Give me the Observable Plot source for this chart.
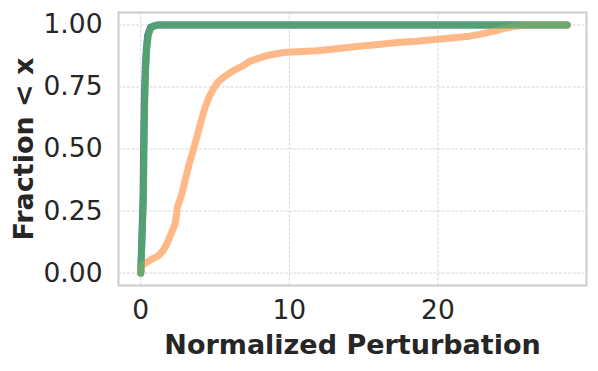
<!DOCTYPE html>
<html>
<head>
<meta charset="utf-8">
<script src="https://cdn.jsdelivr.net/npm/d3@7"></script>
<script src="https://cdn.jsdelivr.net/npm/@observablehq/plot@0.6"></script>
<style>
  html, body { margin: 0; padding: 0; background: #fff; }
  svg { display: block; }
</style>
</head>
<body>
<div id="chart"></div>
<script>
// Series (x = normalized perturbation, y = fraction < x)
const blueX   = [0, 0.05, 0.1, 0.15, 0.19, 0.24, 0.3, 0.37, 0.47, 0.65, 1.1, 28.7];
const blueY   = [0, 0.1, 0.2, 0.3, 0.5, 0.7, 0.82, 0.9, 0.96, 0.99, 1.0, 1.0];
const greenX  = [0, 0.06, 0.12, 0.18, 0.22, 0.27, 0.33, 0.4, 0.51, 0.7, 0.95, 1.2, 28.7];
const greenY  = [0, 0.1, 0.2, 0.3, 0.5, 0.7, 0.82, 0.9, 0.96, 0.99, 0.998, 1.0, 1.0];
const orangeX = [0, 0.07, 0.63, 1.18, 1.5, 1.75, 2.05, 2.31, 2.4, 2.46, 2.76, 3.05, 3.32, 3.77, 4.05, 4.33, 4.6, 4.89, 5.2, 5.56, 6.2, 6.9, 7.3, 7.8, 8.6, 9.6, 10.5, 11.84, 13.0, 14.08, 15.8, 17.45, 18.57, 20.2, 21.94, 22.8, 23.73, 24.4, 25.07, 25.97, 28.7];
const orangeY = [0, 0.03, 0.052, 0.07, 0.09, 0.117, 0.16, 0.198, 0.23, 0.265, 0.318, 0.39, 0.453, 0.547, 0.61, 0.668, 0.71, 0.742, 0.77, 0.789, 0.815, 0.836, 0.852, 0.863, 0.878, 0.889, 0.892, 0.896, 0.903, 0.91, 0.92, 0.93, 0.934, 0.943, 0.953, 0.962, 0.974, 0.985, 0.993, 1.0, 1.0];
const xTicks = [0, 10, 20];
const yTicks = [0, 0.25, 0.5, 0.75, 1.0];
const xLabel = "Normalized Perturbation";
const yLabel = "Fraction < x";

const toRows = (xs, ys) => xs.map((x, i) => ({x, y: ys[i]}));
const blue = toRows(blueX, blueY);
const green = toRows(greenX, greenY);
const orange = toRows(orangeX, orangeY);

const font = "DejaVu Sans";
const lineOpts = {x: "x", y: "y", strokeWidth: 7, strokeLinecap: "round", strokeLinejoin: "round", curve: "linear"};
const chart = Plot.plot({
  width: 598,
  height: 371,
  marginLeft: 118,
  marginRight: 12,
  marginTop: 12,
  marginBottom: 86,
  style: {fontFamily: font, color: "#262626", background: "#fff", overflow: "visible"},
  x: {domain: [-1.5, 30.0]},
  y: {domain: [-0.05, 1.05]},
  marks: [
    Plot.ruleX(xTicks, {stroke: "#d4d4d4", strokeWidth: 0.9, strokeDasharray: "3,1.5"}),
    Plot.ruleY(yTicks, {stroke: "#d4d4d4", strokeWidth: 0.9, strokeDasharray: "3,1.5"}),
    Plot.line(blue, {...lineOpts, stroke: "#4c72b0"}),
    Plot.line(orange, {...lineOpts, stroke: "#ffb482", strokeOpacity: 0.95}),
    Plot.line(green, {...lineOpts, stroke: "#55a868", strokeOpacity: 0.85}),
    Plot.frame({stroke: "#cccccc", strokeWidth: 2}),
    Plot.axisX(xTicks, {tickSize: 0, tickPadding: 15, fontSize: 26.5, label: null, fill: "#262626"}),
    Plot.axisY(yTicks, {tickSize: 0, tickPadding: 16, fontSize: 26.5, label: null, tickFormat: d3.format(".2f"), fill: "#262626"}),
    Plot.text([xLabel], {frameAnchor: "bottom", textAnchor: "middle", dy: 68, fontSize: 27, fontWeight: "bold", fill: "#262626"}),
    Plot.text([yLabel], {frameAnchor: "left", textAnchor: "middle", dx: -94, rotate: -90, fontSize: 27, fontWeight: "bold", fill: "#262626"})
  ]
});
document.getElementById("chart").appendChild(chart);
</script>
</body>
</html>
